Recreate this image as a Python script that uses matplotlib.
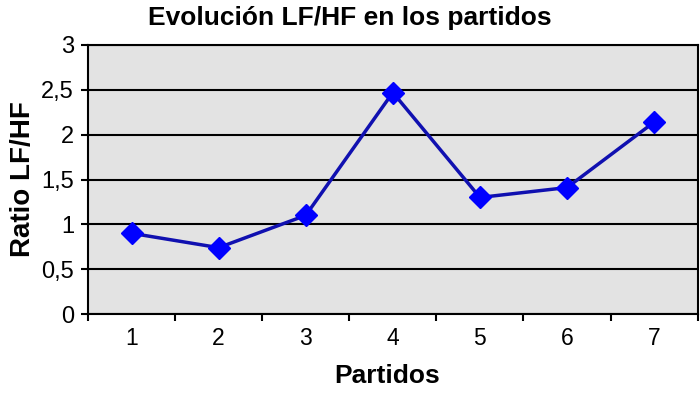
import matplotlib
matplotlib.use("Agg")
from matplotlib import pyplot as plt
from matplotlib.ticker import FuncFormatter
import numpy as np

partidos = ["1", "2", "3", "4", "5", "6", "7"]
ratio = [0.9, 0.74, 1.1, 2.47, 1.3, 1.41, 2.14]
yticks = [0, 0.5, 1, 1.5, 2, 2.5, 3]

plt.rcParams['font.family'] = ['Liberation Sans', 'DejaVu Sans']

fig = plt.figure(figsize=(7, 3.93), dpi=100)
ax = fig.add_axes([0.1257, 0.201, 0.871, 0.6845])
ax.set_facecolor("#e3e3e3")

x = np.arange(len(partidos))
ax.plot(x, ratio, '-', color="#1010b0", lw=2.5, zorder=3)
ax.plot(x, ratio, 'D', color="#0000ff", ms=11, zorder=4)

ax.set_xlim(-0.5, len(partidos) - 0.5)
ax.set_ylim(0, 3)
ax.set_yticks(yticks)
ax.yaxis.set_major_formatter(FuncFormatter(lambda v, p: ("%g" % v).replace(".", ",")))
ax.grid(axis='y', color='black', lw=1.5)
ax.set_axisbelow(True)

ax.set_xticks(x)
ax.set_xticklabels(partidos)
ax.set_xticks(np.arange(-0.5, len(partidos)), minor=True)
ax.tick_params(axis='x', which='major', length=0, pad=9, labelsize=16.5)
ax.tick_params(axis='x', which='minor', length=5, width=1.5)
ax.tick_params(axis='y', length=5, width=1.5, labelsize=17, pad=5)

for s in ax.spines.values():
    s.set_linewidth(1.5)

fig.text(0.5, 0.955, "Evolución LF/HF en los partidos", fontsize=19, fontweight='bold',
         ha='center', va='center')
ax.set_xlabel("Partidos", fontsize=19, fontweight='bold')
ax.xaxis.set_label_coords(0.49, -0.185)
ax.set_ylabel("Ratio LF/HF", fontsize=20, fontweight='bold', labelpad=4)

fig.savefig("out.png", dpi=100)
